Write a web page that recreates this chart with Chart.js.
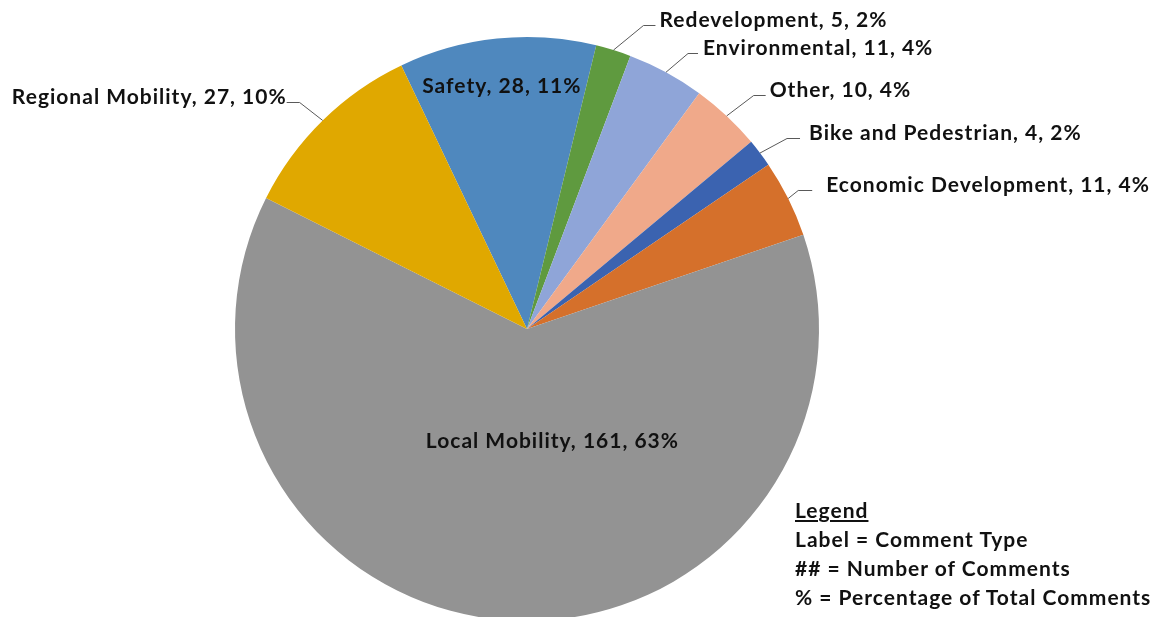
<!DOCTYPE html>
<html>
<head>
<meta charset="utf-8">
<script src="https://cdn.jsdelivr.net/npm/chart.js@4.4.0/dist/chart.umd.min.js"></script>
<style>
  html, body { margin:0; padding:0; background:#fff; overflow:hidden; width:1164px; height:617px; }
  #wrap { position:absolute; left:0; top:0; width:1164px; height:660px; }
  #legend { position:absolute; left:795px; top:495px; font:bold 21px Lato, sans-serif; letter-spacing:1px; line-height:29px; color:#111; white-space:nowrap; }
  #legend .title { text-decoration:underline; }
</style>
</head>
<body>
<div id="wrap"><canvas id="c" width="1164" height="660" style="width:1164px;height:660px"></canvas></div>
<div id="legend">
  <div class="title">Legend</div>
  <div>Label = Comment Type</div>
  <div>## = Number of Comments</div>
  <div>% = Percentage of Total Comments</div>
</div>
<script>
// ---- data ----
const categories = ["Safety", "Redevelopment", "Environmental", "Other", "Bike and Pedestrian", "Economic Development", "Local Mobility", "Regional Mobility"];
const counts     = [28, 5, 11, 10, 4, 11, 161, 27];
const percents   = [11, 2, 4, 4, 2, 4, 63, 10];

// ---- styling ----
const colors = ["#4F88BE", "#5F9A3F", "#8FA5D8", "#F0A98A", "#3B63B0", "#D5702B", "#939393", "#E0A800"];

// label placement: inside labels (fraction of radius along mid-angle + shift),
// outside labels (elbow offset from arc edge, horizontal leader length, text gap)
const labelLayout = [
  { inside:true, r:0.84, dx:0,  dy:8 },
  { ex:30,  ey:-25, h:12,  gap:4 },
  { ex:22,  ey:-19, h:10,  gap:5 },
  { ex:27,  ey:-21, h:12,  gap:4 },
  { ex:27,  ey:-15, h:13,  gap:9 },
  { ex:10,  ey:-8,  h:14,  gap:14 },
  { inside:true, r:0.38, dx:33, dy:8 },
  { ex:-23, ey:-18, h:-13, gap:0 }
];

const labelPlugin = {
  id: 'sliceLabels',
  afterDatasetsDraw(chart) {
    const ctx = chart.ctx;
    const meta = chart.getDatasetMeta(0);
    ctx.save();
    ctx.font = 'bold 21px Lato, sans-serif';
    if ('letterSpacing' in ctx) ctx.letterSpacing = '1px';
    ctx.fillStyle = '#111';
    ctx.strokeStyle = '#595959';
    ctx.lineWidth = 1;
    meta.data.forEach((arc, i) => {
      const p = arc.getProps(['x', 'y', 'startAngle', 'endAngle', 'outerRadius']);
      const mid = (p.startAngle + p.endAngle) / 2;
      const L = labelLayout[i];
      const text = categories[i] + ', ' + counts[i] + ', ' + percents[i] + '%';
      ctx.textBaseline = 'alphabetic';
      if (L.inside) {
        const px = p.x + L.r * p.outerRadius * Math.cos(mid) + L.dx;
        const py = p.y + L.r * p.outerRadius * Math.sin(mid) + L.dy;
        ctx.textAlign = 'center';
        ctx.fillText(text, px, py);
      } else {
        const ex = p.x + p.outerRadius * Math.cos(mid);
        const ey = p.y + p.outerRadius * Math.sin(mid);
        const bx = ex + L.ex, by = Math.round(ey + L.ey) + 0.5;
        const lx = bx + L.h;
        ctx.beginPath();
        ctx.moveTo(ex, ey);
        ctx.lineTo(bx, by);
        ctx.lineTo(lx, by);
        ctx.stroke();
        if (L.h < 0) { ctx.textAlign = 'right'; ctx.fillText(text, lx - L.gap, by + 1.5); }
        else { ctx.textAlign = 'left'; ctx.fillText(text, lx + L.gap, by + 1.5); }
      }
    });
    ctx.restore();
  }
};

new Chart(document.getElementById('c'), {
  type: 'pie',
  data: {
    labels: categories,
    datasets: [{
      data: counts,
      backgroundColor: colors,
      borderWidth: 0
    }]
  },
  options: {
    responsive: false,
    animation: false,
    rotation: -25.5,
    layout: { padding: { left: 235, right: 345, top: 37, bottom: 39 } },
    plugins: { legend: { display: false }, tooltip: { enabled: false } }
  },
  plugins: [labelPlugin]
});
</script>
</body>
</html>
